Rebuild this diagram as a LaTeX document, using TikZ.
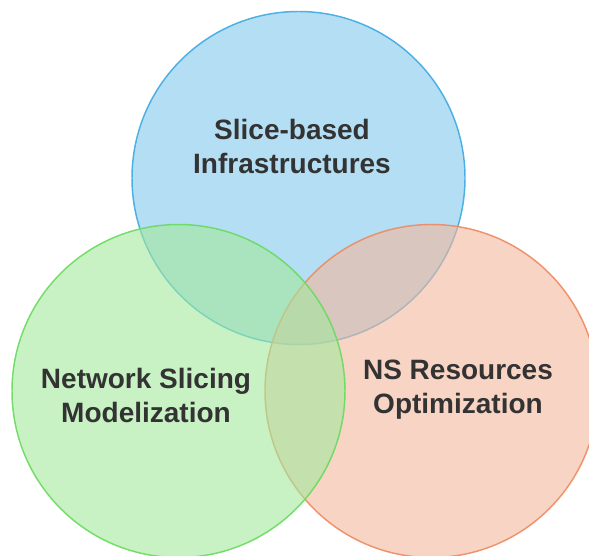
\documentclass[tikz,border=0pt]{standalone}
\usepackage{fontspec}
\setmainfont{Liberation Sans}
\definecolor{sliceblue}{RGB}{130,200,237}
\definecolor{slicebluedraw}{RGB}{62,170,226}
\definecolor{modelgreen}{RGB}{163,233,157}
\definecolor{modelgreendraw}{RGB}{105,218,95}
\definecolor{optorange}{RGB}{243,183,157}
\definecolor{optorangedraw}{RGB}{238,138,96}
\definecolor{labelgray}{RGB}{51,51,51}
\begin{document}
\begin{tikzpicture}[x=0.75pt,y=0.75pt,yscale=-1,xscale=1,
  venn/.style={fill opacity=0.6,draw opacity=0.9,line width=1.1pt},
  venntext/.style={align=center,text=labelgray,font=\fontsize{21}{25.5}\selectfont\bfseries}]
\useasboundingbox (0,0) rectangle (589,556);
%Circle: Slice-based Infrastructures
\draw [venn,fill=sliceblue,draw=slicebluedraw] (298.5,178) circle [radius=166.5];
%Circle: NS Resources Optimization
\draw [venn,fill=optorange,draw=optorangedraw] (431.5,391) circle [radius=166.5];
%Circle: Network Slicing Modelization
\draw [venn,fill=modelgreen,draw=modelgreendraw] (178.5,391) circle [radius=166.5];
% Text Node
\node [venntext] (infra) at (292,146) {Slice-based\\Infrastructures};
% Text Node
\node [venntext] (model) at (146,395) {Network Slicing\\Modelization};
% Text Node
\node [venntext] (optim) at (458,390) {NS Resources\\Optimization};
\end{tikzpicture}
\end{document}
